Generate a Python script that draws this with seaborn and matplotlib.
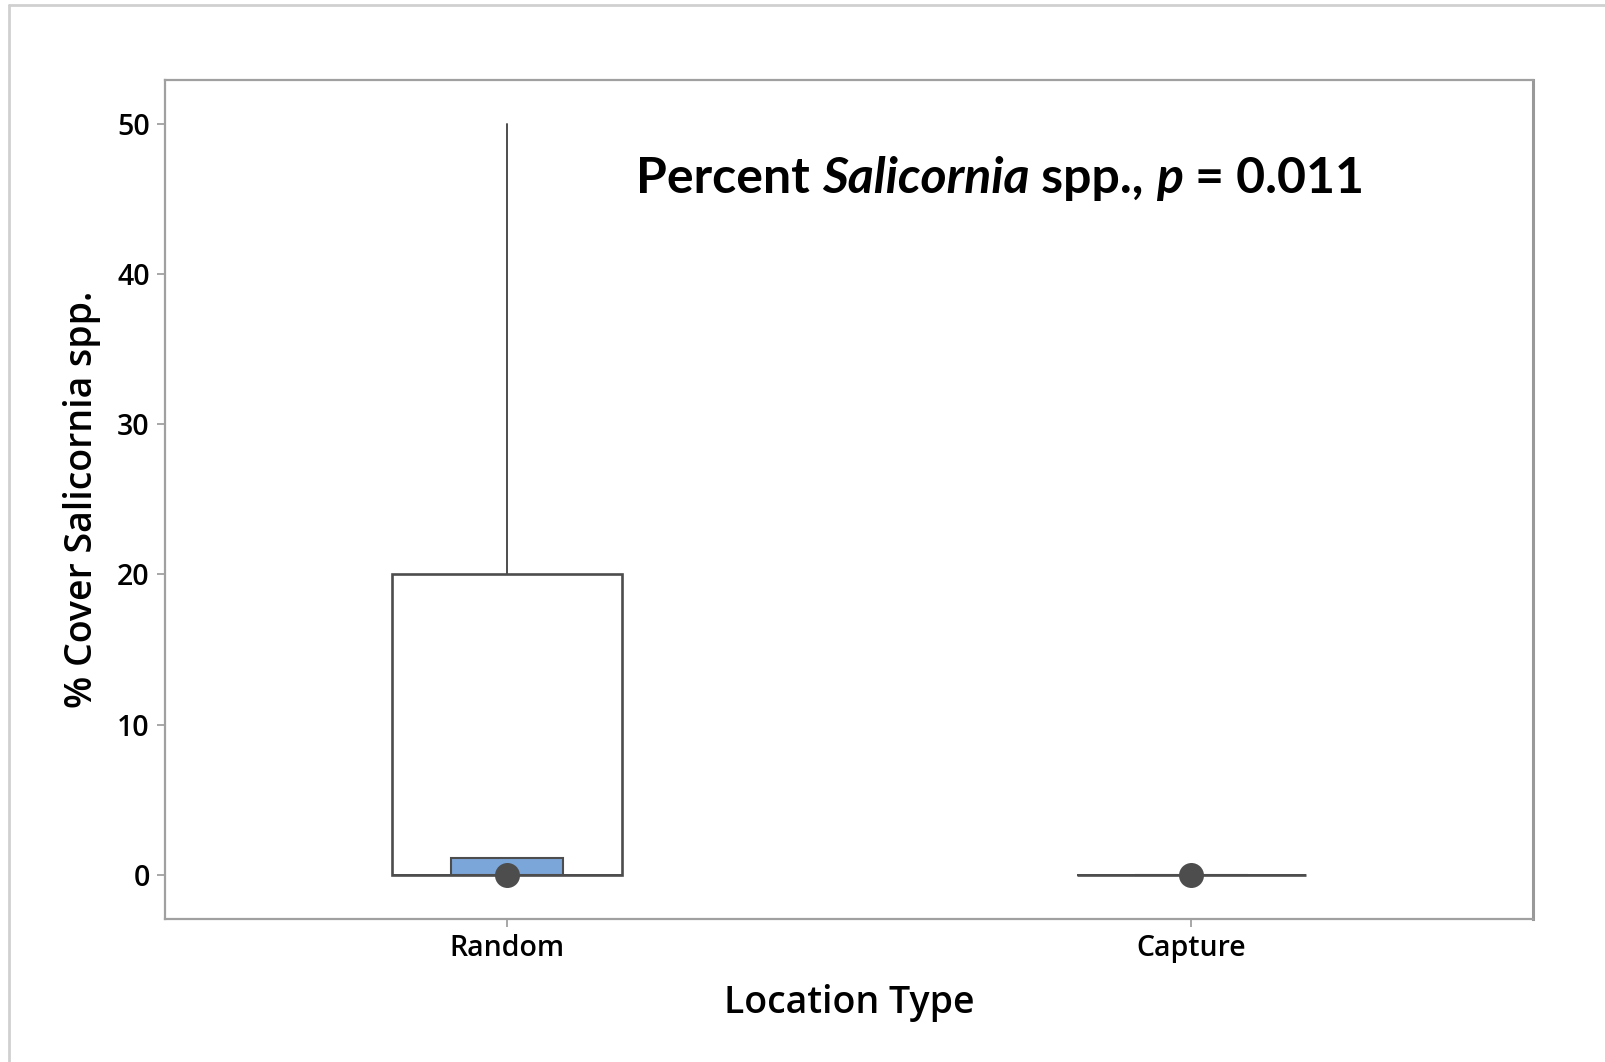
"""Percent Salicornia spp. cover by location type (Minitab-style boxplot)"""
import matplotlib
matplotlib.use("Agg")
import matplotlib.pyplot as plt
import seaborn as sns
from matplotlib.lines import Line2D
from matplotlib.offsetbox import TextArea, HPacker, AnchoredOffsetbox

# ─── data ───
location = ["Random", "Capture"]
q1 = [0, 0]
median = [0, 0]
q3 = [20, 0]
whisker_low = [0, 0]
whisker_high = [50, 0]
median_ci_low = [0, 0]
median_ci_high = [1.1, 0]
y_ticks = [0, 10, 20, 30, 40, 50]

EDGE = "#4d4d4d"
FRAME = "#a0a0a0"
BLUE = "#7ba6da"

sns.set_style("white")
plt.rcParams["font.family"] = ["Open Sans", "DejaVu Sans"]
plt.rcParams["text.color"] = "black"
plt.rcParams["axes.labelcolor"] = "black"

fig = plt.figure(figsize=(16.06, 10.62), dpi=100)
ax = fig.add_axes([0.1027, 0.1347, 0.852, 0.79])

# boxes from the summary statistics
stats = []
for i, name in enumerate(location):
    stats.append({"label": name, "q1": q1[i], "med": median[i], "q3": q3[i],
                  "whislo": whisker_low[i], "whishi": whisker_high[i], "fliers": []})
ax.bxp(stats, positions=range(len(location)), widths=0.335,
       showfliers=False, showcaps=False, patch_artist=True,
       boxprops=dict(facecolor="white", edgecolor=EDGE, linewidth=1.9),
       whiskerprops=dict(color=EDGE, linewidth=1.4),
       medianprops=dict(color=EDGE, linewidth=1.4), zorder=2)

# confidence interval for the median
ci_height = [hi - lo for hi, lo in zip(median_ci_high, median_ci_low)]
ax.bar(range(len(location)), ci_height, bottom=median_ci_low, width=0.165,
       color=BLUE, edgecolor=EDGE, linewidth=1.5, zorder=3)

# median symbol
sns.stripplot(x=location, y=median, ax=ax, jitter=False, size=18,
              color=EDGE, linewidth=0, zorder=5)

ax.set_xlim(-0.5, 1.5)
ax.set_ylim(-2.93, 52.9)
ax.set_yticks(y_ticks)
ax.set_xticks(range(len(location)))
ax.set_xticklabels(location)

for side, sp in ax.spines.items():
    sp.set_visible(True)
    sp.set_color(FRAME)
    sp.set_linewidth(1.6)
ax.spines["right"].set_linewidth(2.2)
ax.spines["right"].set_color("#999999")

ax.tick_params(axis="both", direction="out", length=6, width=1.3, color=FRAME,
               labelsize=20.5, labelcolor="black", pad=5, left=True, bottom=True)
for lab in ax.get_xticklabels() + ax.get_yticklabels():
    lab.set_fontweight("semibold")

ax.set_xlabel("Location Type", fontsize=27, fontweight="semibold", labelpad=15,
              color="black")
ax.set_ylabel("% Cover Salicornia spp.", fontsize=27, fontweight="semibold",
              color="black")
ax.yaxis.set_label_coords(-0.047, 0.5)

# title with italic pieces
title_font = ["Lato", "DejaVu Sans"]
pieces = [("Percent ", "normal"), ("Salicornia", "italic"), (" spp., ", "normal"),
          ("p", "italic"), (" = 0.011", "normal")]
areas = [TextArea(txt, textprops=dict(family=title_font, fontsize=36, fontweight="bold",
                                      fontstyle=st, color="black"))
         for txt, st in pieces]
pack = HPacker(children=areas, align="baseline", pad=0, sep=0)
box = AnchoredOffsetbox(loc="lower left", child=pack, pad=0, borderpad=0, frameon=False,
                        bbox_to_anchor=(0.396, 0.811), bbox_transform=fig.transFigure)
fig.add_artist(box)

# light outer frame (top and left edges)
fig.add_artist(Line2D([0.0056, 1.0], [0.995, 0.995], color="#d0d0d0", linewidth=2,
                      transform=fig.transFigure))
fig.add_artist(Line2D([0.0056, 0.0056], [0.0, 0.995], color="#d0d0d0", linewidth=2,
                      transform=fig.transFigure))

fig.savefig("out.png", dpi=100)
